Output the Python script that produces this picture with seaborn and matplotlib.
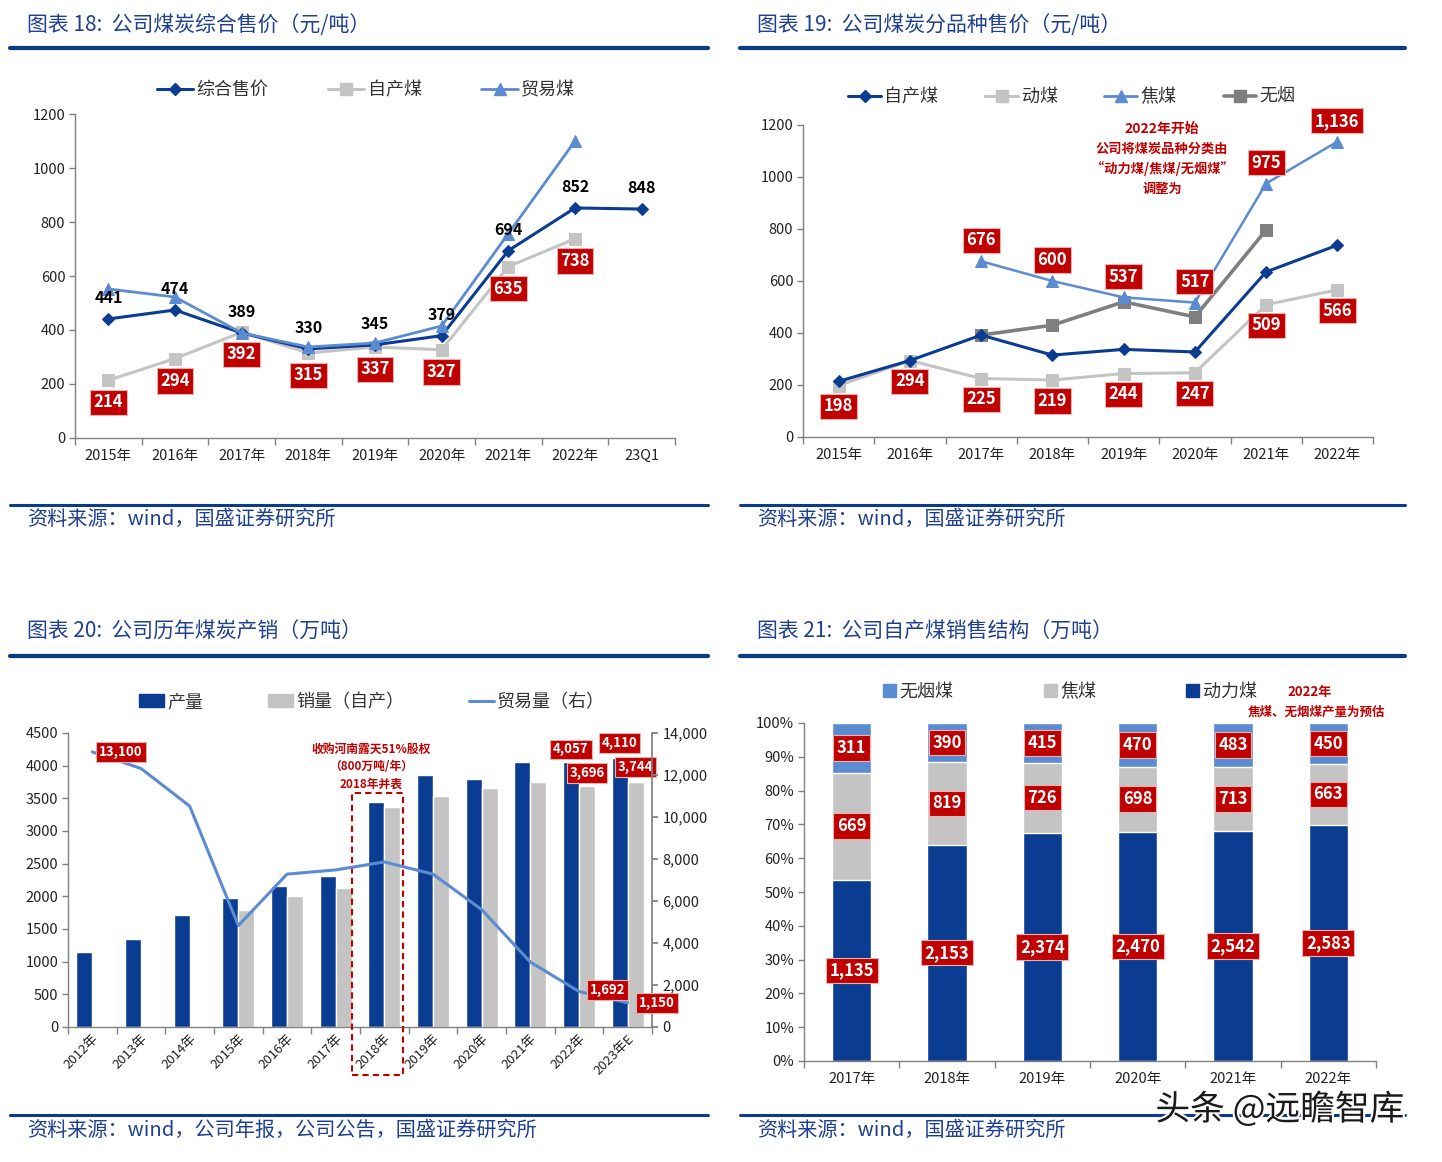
import numpy as np
import pandas as pd
import matplotlib
matplotlib.use("Agg")
import matplotlib.pyplot as plt
import seaborn as sns
from matplotlib.patches import Rectangle, Patch
from matplotlib.lines import Line2D
from matplotlib.ticker import FuncFormatter, MultipleLocator
import matplotlib.patheffects as pe

sns.set_theme(style="white")
CJK = ["Noto Sans CJK SC", "DejaVu Sans"]
NUM = ["Liberation Sans Narrow", "Noto Sans CJK SC", "DejaVu Sans"]
plt.rcParams["font.family"] = CJK
plt.rcParams["axes.unicode_minus"] = False

# ---------------- data ----------------
c1_years = ["2015年", "2016年", "2017年", "2018年", "2019年", "2020年", "2021年", "2022年", "23Q1"]
c1_avg = [441, 474, 389, 330, 345, 379, 694, 852, 848]
c1_self = [214, 294, 392, 315, 337, 327, 635, 738, np.nan]
c1_trade = [552, 522, 389, 337, 352, 415, 757, 1100, np.nan]

c2_years = ["2015年", "2016年", "2017年", "2018年", "2019年", "2020年", "2021年", "2022年"]
c2_self = [214, 294, 392, 315, 337, 327, 635, 738]
c2_thermal = [198, 294, 225, 219, 244, 247, 509, 566]
c2_coking = [np.nan, np.nan, 676, 600, 537, 517, 975, 1136]
c2_anthr = [np.nan, np.nan, 392, 430, 520, 462, 796, np.nan]

c3_years = ["2012年", "2013年", "2014年", "2015年", "2016年", "2017年", "2018年",
            "2019年", "2020年", "2021年", "2022年", "2023年E"]
c3_output = [1144, 1343, 1709, 1968, 2162, 2314, 3449, 3856, 3800, 4059, 4057, 4110]
c3_sales = [np.nan, np.nan, np.nan, 1790, 2004, 2126, 3367, 3530, 3652, 3743, 3696, 3744]
c3_trade = [13100, 12310, 10520, 4830, 7280, 7480, 7860, 7280, 5590, 3090, 1692, 1150]

c4_years = ["2017年", "2018年", "2019年", "2020年", "2021年", "2022年"]
c4_thermal = [1135, 2153, 2374, 2470, 2542, 2583]
c4_coking = [669, 819, 726, 698, 713, 663]
c4_anthr = [311, 390, 415, 470, 483, 450]

# ---------------- colours ----------------
NAVY = "#0A3C91"
LBLUE = "#5B8BD0"
LGRAY = "#C4C4C4"
DGRAY = "#7F7F7F"
RED = "#C00000"
TITLE = "#1F3F8F"
RULE = "#0B3C8C"
AX = "#808080"

W, H = 1442, 1162
fig = plt.figure(figsize=(W / 100, H / 100), dpi=100)
fig.patch.set_facecolor("white")


def add_ax(x0, y0, x1, y1):
    return fig.add_axes([x0 / W, 1 - y1 / H, (x1 - x0) / W, (y1 - y0) / H])


def ftext(x, y, s, **kw):
    fig.text(x / W, 1 - y / H, s, **kw)


def rule(x0, x1, y, lw=3):
    fig.add_artist(Line2D([x0 / W, x1 / W], [1 - y / H, 1 - y / H], color=RULE, lw=lw))


def redlabel(ax, x, y, s, dx=0, dy=0, fs=12, ha="center"):
    if y is None or (isinstance(y, float) and np.isnan(y)):
        return
    ax.annotate(s, (x, y), xytext=(dx, dy), textcoords="offset points", ha=ha, va="center",
                color="white", fontsize=fs, fontweight="bold", family=NUM,
                bbox=dict(boxstyle="square,pad=0.22", fc=RED, ec="#E9B0B0", lw=0.8), zorder=10)


def style_axes(ax):
    for s in ["top", "right"]:
        ax.spines[s].set_visible(False)
    for s in ["left", "bottom"]:
        ax.spines[s].set_color(AX)
        ax.spines[s].set_linewidth(1)
    ax.tick_params(axis="y", which="major", length=4, width=1, color=AX, direction="out",
                   labelsize=10.5, labelcolor="#222222", left=True, pad=3)
    ax.tick_params(axis="x", which="major", length=0, labelsize=10.5, labelcolor="#222222", pad=8)
    ax.tick_params(axis="x", which="minor", length=5, width=1, color=AX, direction="out", bottom=True)
    ax.grid(False)
    ax.set_xlabel("")
    ax.set_ylabel("")
    for t in ax.get_yticklabels() + ax.get_xticklabels():
        t.set_family(NUM)


def cat_minor(ax, n):
    ax.set_xticks(np.arange(n + 1) - 0.5, minor=True)


# ---------------- frame titles / rules ----------------
tkw = dict(color=TITLE, fontsize=15, style="italic", va="center", ha="left")
ftext(27, 25, "图表 18:  公司煤炭综合售价（元/吨）", **tkw)
ftext(757, 25, "图表 19:  公司煤炭分品种售价（元/吨）", **tkw)
ftext(27, 632, "图表 20:  公司历年煤炭产销（万吨）", **tkw)
ftext(757, 632, "图表 21:  公司自产煤销售结构（万吨）", **tkw)
skw = dict(color=TITLE, fontsize=14.5, style="italic", va="center", ha="left")
ftext(27, 519, "资料来源：wind，国盛证券研究所", **skw)
ftext(757, 519, "资料来源：wind，国盛证券研究所", **skw)
ftext(27, 1130, "资料来源：wind，公司年报，公司公告，国盛证券研究所", **skw)
ftext(757, 1130, "资料来源：wind，国盛证券研究所", **skw)
for y, lw in [(48, 3), (505, 2.2), (656, 3), (1115, 2.2)]:
    rule(10, 708, y, lw)
    rule(740, 1405, y, lw)

# ---------------- chart 18 ----------------
ax1 = add_ax(75, 114, 675, 438)
x1 = np.arange(len(c1_years))
sns.lineplot(x=x1, y=c1_self, ax=ax1, color=LGRAY, lw=2.2, marker="s", markersize=8,
             markeredgecolor=LGRAY)
sns.lineplot(x=x1, y=c1_avg, ax=ax1, color=NAVY, lw=2.2, marker="D", markersize=6,
             markeredgecolor=NAVY)
sns.lineplot(x=x1, y=c1_trade, ax=ax1, color=LBLUE, lw=2, marker="^", markersize=8,
             markeredgecolor=LBLUE)
ax1.set_xlim(-0.5, len(c1_years) - 0.5)
ax1.set_ylim(0, 1200)
ax1.yaxis.set_major_locator(MultipleLocator(200))
ax1.set_xticks(x1)
ax1.set_xticklabels(c1_years)
cat_minor(ax1, len(c1_years))
style_axes(ax1)
for xi, v in zip(x1, c1_avg):
    ax1.annotate(f"{v}", (xi, v), xytext=(0, 15), textcoords="offset points", ha="center",
                 va="center", fontsize=11.5, fontweight="bold", color="black", family=NUM, zorder=9)
for xi, v in zip(x1, c1_self):
    if not np.isnan(v):
        redlabel(ax1, xi, v, f"{v:.0f}", dy=-16, fs=12)
h1 = [Line2D([], [], color=NAVY, lw=2.2, marker="D", ms=6),
      Line2D([], [], color=LGRAY, lw=2.2, marker="s", ms=8),
      Line2D([], [], color=LBLUE, lw=2, marker="^", ms=8)]
ax1.legend(h1, ["综合售价", "自产煤", "贸易煤"], loc="center", ncol=3, frameon=False,
           bbox_to_anchor=(366 / W, 1 - 90 / H), bbox_transform=fig.transFigure,
           fontsize=13, columnspacing=3.3, handlelength=2.0, handletextpad=0.2,
           labelcolor="#333333")

# ---------------- chart 19 ----------------
ax2 = add_ax(803, 125, 1373, 437)
x2 = np.arange(len(c2_years))
sns.lineplot(x=x2, y=c2_thermal, ax=ax2, color=LGRAY, lw=2.2, marker="s", markersize=8,
             markeredgecolor=LGRAY)
sns.lineplot(x=x2, y=c2_anthr, ax=ax2, color=DGRAY, lw=2.6, marker="s", markersize=8,
             markeredgecolor=DGRAY)
sns.lineplot(x=x2, y=c2_self, ax=ax2, color=NAVY, lw=2.2, marker="D", markersize=6,
             markeredgecolor=NAVY)
sns.lineplot(x=x2, y=c2_coking, ax=ax2, color=LBLUE, lw=1.8, marker="^", markersize=8,
             markeredgecolor=LBLUE)
ax2.set_xlim(-0.5, len(c2_years) - 0.5)
ax2.set_ylim(0, 1200)
ax2.yaxis.set_major_locator(MultipleLocator(200))
ax2.set_xticks(x2)
ax2.set_xticklabels(c2_years)
cat_minor(ax2, len(c2_years))
style_axes(ax2)
for xi, v in zip(x2, c2_thermal):
    redlabel(ax2, xi, v, f"{v:,}", dy=-15, fs=12)
for xi, v in zip(x2, c2_coking):
    if not np.isnan(v):
        redlabel(ax2, xi, v, f"{v:,.0f}", dy=15, fs=12)
ftext(1162, 129, "2022年开始", color=RED, fontsize=10, fontweight="bold", ha="center", va="center")
for yy, line in [(149, "公司将煤炭品种分类由"), (169, "“动力煤/焦煤/无烟煤”"), (189, "调整为")]:
    ftext(1162, yy, line, color=RED, fontsize=9.5, fontweight="bold", ha="center", va="center")
h2 = [Line2D([], [], color=NAVY, lw=2.2, marker="D", ms=6),
      Line2D([], [], color=LGRAY, lw=2.2, marker="s", ms=8),
      Line2D([], [], color=LBLUE, lw=2, marker="^", ms=8),
      Line2D([], [], color=DGRAY, lw=2.6, marker="s", ms=8)]
ax2.legend(h2, ["自产煤", "动煤", "焦煤", "无烟"], loc="center", ncol=4, frameon=False,
           bbox_to_anchor=(1072 / W, 1 - 97 / H), bbox_transform=fig.transFigure,
           fontsize=13, columnspacing=2.6, handlelength=1.8, handletextpad=0.2,
           labelcolor="#333333")

# ---------------- chart 20 ----------------
ax3 = add_ax(68, 733, 652, 1027)
n3 = len(c3_years)
df3 = pd.DataFrame({
    "year": c3_years * 2,
    "val": c3_output + c3_sales,
    "series": ["产量"] * n3 + ["销量（自产）"] * n3,
})
sns.barplot(data=df3, x="year", y="val", hue="series", palette=[NAVY, LGRAY], width=0.66,
            gap=0, saturation=1, errorbar=None, legend=False, ax=ax3)
ax3.set_xlim(-0.5, n3 - 0.5)
ax3.set_ylim(0, 4500)
ax3.yaxis.set_major_locator(MultipleLocator(500))
cat_minor(ax3, n3)
style_axes(ax3)
ax3.tick_params(axis="x", which="major", labelsize=9.5, pad=4)
plt.setp(ax3.get_xticklabels(), rotation=45, ha="right", rotation_mode="anchor")
ax3.spines["right"].set_visible(False)

ax3r = ax3.twinx()
sns.lineplot(x=np.arange(n3), y=c3_trade, ax=ax3r, color=LBLUE, lw=2.2)
ax3r.set_ylim(0, 14000)
ax3r.set_xlim(-0.5, n3 - 0.5)
ax3r.yaxis.set_major_locator(MultipleLocator(2000))
ax3r.yaxis.set_major_formatter(FuncFormatter(lambda v, p: f"{v:,.0f}"))
for s in ["top", "left", "bottom"]:
    ax3r.spines[s].set_visible(False)
ax3r.spines["right"].set_color(AX)
ax3r.tick_params(axis="y", length=4, color=AX, labelsize=10.5, labelcolor="#222222", right=True)
ax3r.set_ylabel("")
ax3r.grid(False)
for t in ax3r.get_yticklabels():
    t.set_family(NUM)

off = 0.165
redlabel(ax3, 10 - off, c3_output[10], f"{c3_output[10]:,}", dy=9, fs=9.5)
redlabel(ax3, 11 - off, c3_output[11], f"{c3_output[11]:,}", dy=11, fs=9.5)
redlabel(ax3, 10 + off, c3_sales[10], f"{c3_sales[10]:,.0f}", dy=9, fs=9.5)
redlabel(ax3, 11 + off, c3_sales[11], f"{c3_sales[11]:,.0f}", dy=11, fs=9.5)
redlabel(ax3r, 0, c3_trade[0], f"{c3_trade[0]:,}", dx=5, dy=0, fs=9.5, ha="left")
redlabel(ax3r, 10, c3_trade[10], f"{c3_trade[10]:,}", dx=8, dy=1, fs=9.5, ha="left")
redlabel(ax3r, 11, c3_trade[11], f"{c3_trade[11]:,}", dx=8, dy=0, fs=9.5, ha="left")

ax3.add_patch(Rectangle((6 - 0.66, -735), 1.05, 3580 + 735, fill=False, ls=(0, (3, 2)),
                        ec=RED, lw=1.5, clip_on=False, zorder=5))
ax3.text(6 - 0.28, 3980, "收购河南露天51%股权\n（800万吨/年）\n2018年并表", ha="center",
         va="center", color=RED, fontsize=8.5, fontweight="bold", linespacing=1.45)
h3 = [Patch(color=NAVY), Patch(color=LGRAY), Line2D([], [], color=LBLUE, lw=2.2)]
ax3.legend(h3, ["产量", "销量（自产）", "贸易量（右）"], loc="center", ncol=3, frameon=False,
           bbox_to_anchor=(372 / W, 1 - 702 / H), bbox_transform=fig.transFigure,
           fontsize=13, columnspacing=3.6, handlelength=1.4, handletextpad=0.15,
           labelcolor="#333333")

# ---------------- chart 21 ----------------
ax4 = add_ax(804, 723, 1376, 1061)
tot = np.array(c4_thermal) + np.array(c4_coking) + np.array(c4_anthr)
p_th = np.array(c4_thermal) / tot
p_co = np.array(c4_coking) / tot
p_an = np.array(c4_anthr) / tot
sns.barplot(x=c4_years, y=p_th + p_co + p_an, color=LBLUE, width=0.41, saturation=1, ax=ax4)
sns.barplot(x=c4_years, y=p_th + p_co, color=LGRAY, width=0.41, saturation=1, ax=ax4)
sns.barplot(x=c4_years, y=p_th, color=NAVY, width=0.41, saturation=1, ax=ax4)
ax4.set_xlim(-0.5, len(c4_years) - 0.5)
ax4.set_ylim(0, 1)
ax4.yaxis.set_major_locator(MultipleLocator(0.1))
ax4.yaxis.set_major_formatter(FuncFormatter(lambda v, p: f"{v * 100:.0f}%"))
cat_minor(ax4, len(c4_years))
style_axes(ax4)
for i in range(len(c4_years)):
    redlabel(ax4, i, p_th[i] / 2, f"{c4_thermal[i]:,}", fs=12)
    redlabel(ax4, i, p_th[i] + p_co[i] / 2, f"{c4_coking[i]:,}", fs=12)
    redlabel(ax4, i, p_th[i] + p_co[i] + p_an[i] / 2, f"{c4_anthr[i]:,}", fs=12)
h4 = [Patch(color=LBLUE), Patch(color=LGRAY), Patch(color=NAVY)]
ax4.legend(h4, ["无烟煤", "焦煤", "动力煤"], loc="center", ncol=3, frameon=False,
           bbox_to_anchor=(1070 / W, 1 - 692 / H), bbox_transform=fig.transFigure,
           fontsize=13, columnspacing=5.0, handlelength=0.7, handletextpad=0.2,
           labelcolor="#333333")
ftext(1310, 692, "2022年", color=RED, fontsize=9.5, fontweight="bold", ha="center", va="center")
ftext(1317, 712, "焦煤、无烟煤产量为预估", color=RED, fontsize=9, fontweight="bold",
      ha="center", va="center")

# watermark
ftext(1280, 1110, "头条 @远瞻智库", color="#1a1a1a", fontsize=25, ha="center", va="center",
      path_effects=[pe.withStroke(linewidth=3, foreground="white")], zorder=20)

fig.savefig("out.png", dpi=100, facecolor="white")
